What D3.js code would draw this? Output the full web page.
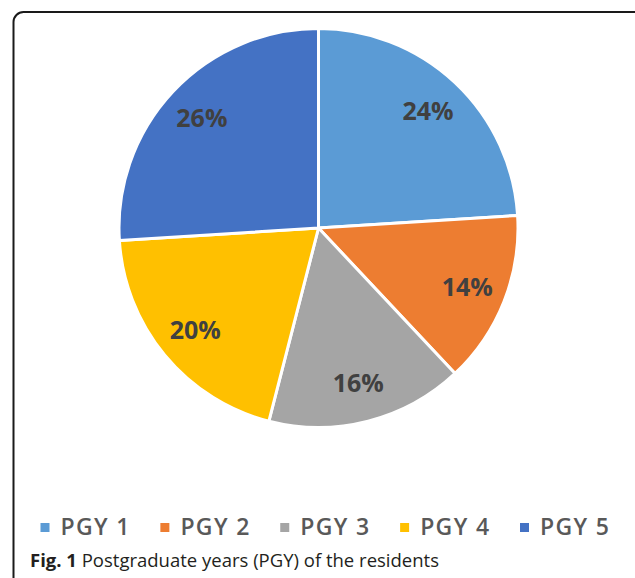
<!DOCTYPE html>
<html lang="en">
<head>
    <title>PGY pie</title>
    <script src="https://d3js.org/d3.v7.min.js"></script>
    <style>
        body { margin: 0; background: #fff; }
    </style>
</head>
<body>

<script>
    const categories = ['PGY 1', 'PGY 2', 'PGY 3', 'PGY 4', 'PGY 5'];
    const shares = [24, 14, 16, 20, 26];
    const colors = ['#5b9bd5', '#ed7d31', '#a5a5a5', '#ffc000', '#4472c4'];

    const width = 635, height = 578;
    const cx = 318.5, cy = 228, radius = 199.5;

    const svg = d3.select("body").append("svg")
            .attr("width", width)
            .attr("height", height);

    // frame round the figure
    svg.append("rect")
            .attr("x", 13.5).attr("y", 12)
            .attr("width", 640).attr("height", 620)
            .attr("rx", 10)
            .attr("fill", "none")
            .attr("stroke", "#1a1a1a")
            .attr("stroke-width", 2);

    const color = d3.scaleOrdinal().domain(categories).range(colors);

    const pie = d3.pie().sort(null).value(d => d.value);
    const arcs = pie(categories.map((c, i) => ({name: c, value: shares[i]})));

    const arc = d3.arc().innerRadius(0).outerRadius(radius);
    const labelArc = d3.arc().innerRadius(160).outerRadius(160);

    const g = svg.append("g").attr("transform", `translate(${cx},${cy})`);

    g.selectAll("path")
            .data(arcs).enter()
            .append("path")
            .attr("d", arc)
            .attr("fill", d => color(d.data.name))
            .attr("stroke", "#fff")
            .attr("stroke-width", 3)
            .attr("stroke-linejoin", "round");

    g.selectAll("text")
            .data(arcs).enter()
            .append("text")
            .attr("transform", d => `translate(${labelArc.centroid(d)})`)
            .attr("text-anchor", "middle")
            .attr("dy", "0.36em")
            .style("font-family", "'Open Sans', sans-serif")
            .style("font-weight", 700)
            .style("font-size", "25px")
            .style("fill", "#404040")
            .text(d => d.data.value + '%');

    // legend
    const legendX = d3.scalePoint().domain(categories).range([40.5, 520]);
    const legend = svg.append("g").selectAll("g")
            .data(categories).enter()
            .append("g")
            .attr("transform", d => `translate(${legendX(d)},523)`);

    legend.append("rect")
            .attr("width", 9).attr("height", 9)
            .attr("fill", d => color(d));

    legend.append("text")
            .attr("x", 20).attr("y", 12)
            .attr("textLength", 69)
            .attr("lengthAdjust", "spacing")
            .style("font-family", "'Open Sans', sans-serif")
            .style("font-weight", 600)
            .style("font-size", "23px")
            .style("fill", "#595959")
            .text(d => d);

    // caption
    const cap = svg.append("text")
            .attr("x", 30).attr("y", 567)
            .style("font-family", "'Open Sans', sans-serif")
            .style("font-size", "18.5px")
            .style("fill", "#231f20");
    cap.append("tspan").style("font-weight", 700).text("Fig. 1");
    cap.append("tspan").text(" Postgraduate years (PGY) of the residents");
</script>

</body>
</html>
